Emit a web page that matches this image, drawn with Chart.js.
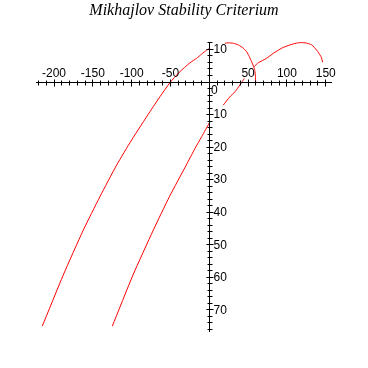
<!DOCTYPE html>
<html>
<head>
<meta charset="utf-8">
<script src="https://cdn.jsdelivr.net/npm/chart.js@4/dist/chart.umd.min.js"></script>
<style>
  html, body { margin: 0; padding: 0; background: #fff; }
  canvas { display: block; }
</style>
</head>
<body>
<canvas id="mikhajlov" width="368" height="368"></canvas>
<script>
// Curve A: starts on the real axis near x=60, arcs over the top, runs down-left
// (null = piece hidden behind a tick label in the original)
const curveAX = [59.8, 59.4, 58.6, 56.9, 54.6, 51.5, 48.2, 43.8, 37.4, 30.9, 24.5, 20.2, 10.5,
  0.9, -3.3, -9.8, -16.2, -24.9, -39.0, -50.6, -63.5, -76.4, -100.0, -119.3, -140.8, -162.3, -188.1, -215.1];
const curveAY = [-0.1, 1.8, 3.6, 4.9, 6.2, 7.8, 9.3, 10.4, 11.4, 11.9, 12.05, 11.9, null,
  10.4, 9.8, 8.6, 7.3, 5.9, 2.9, -0.2, -4.5, -9.1, -17.8, -25.5, -35.2, -45.5, -59.3, -75.0];

// Curve B: right arc, then down-left below the origin
const curveBX = [146.1, 143.9, 138.3, 131.9, 123.3, 114.6, 104.0, 93.3, 82.4, 73.9, 63.1, 58.0, 51.0,
  45.1, 39.5, 33.1, 26.3, 18.0, 10.0,
  0.9, -9.8, -18.4, -29.6, -51.3, -72.1, -98.3, -124.9];
const curveBY = [6.1, 7.8, 9.8, 11.4, 12.05, 12.05, 11.4, 10.4, 8.8, 7.3, 5.9, 4.8, null,
  1.1, -0.9, -3.0, -4.6, -7.1, null,
  -12.2, -16.8, -20.4, -25.5, -35.2, -45.5, -59.3, -75.0];

const xTickLabels = [-200, -150, -100, -50, 50, 100, 150];
const yTickLabels = [10, -10, -20, -30, -40, -50, -60, -70];

const toPoints = (xs, ys) => xs.map((v, i) => ({ x: v, y: ys[i] }));

const mapleAxes = {
  id: "mapleAxes",
  afterDraw(chart) {
    const { ctx } = chart;
    const sx = chart.scales.x, sy = chart.scales.y;
    const x0 = Math.floor(sx.getPixelForValue(0)) + 0.5;
    const y0 = Math.floor(sy.getPixelForValue(0)) + 0.5;
    ctx.save();
    ctx.strokeStyle = "#000";
    ctx.lineWidth = 1;
    ctx.beginPath();
    // axes through the origin
    ctx.moveTo(Math.floor(sx.getPixelForValue(-223)), y0);
    ctx.lineTo(Math.ceil(sx.getPixelForValue(157.5)), y0);
    ctx.moveTo(x0, Math.floor(sy.getPixelForValue(11.9)));
    ctx.lineTo(x0, Math.ceil(sy.getPixelForValue(-76.7)));
    // x ticks, every 10, longer every 50
    for (let v = -220; v <= 150; v += 10) {
      const p = Math.floor(sx.getPixelForValue(v)) + 0.5;
      const len = v % 50 === 0 ? 3 : 2;
      ctx.moveTo(p, y0 - len);
      ctx.lineTo(p, y0 + len + 1);
    }
    // y ticks, every 2, longer every 10
    for (let v = 12; v >= -76; v -= 2) {
      const p = Math.floor(sy.getPixelForValue(v)) + 0.5;
      const len = v % 10 === 0 ? 3 : 2;
      ctx.moveTo(x0 - len, p);
      ctx.lineTo(x0 + len + 1, p);
    }
    ctx.stroke();

    ctx.fillStyle = "#000";
    ctx.font = "12px 'Liberation Sans', Arial, sans-serif";
    ctx.textAlign = "center";
    ctx.textBaseline = "alphabetic";
    xTickLabels.forEach((v) => {
      ctx.fillText(String(v), sx.getPixelForValue(v), y0 - 6);
    });
    ctx.textAlign = "left";
    ctx.textBaseline = "middle";
    yTickLabels.forEach((v) => {
      ctx.fillText(String(Math.abs(v)), x0 + 4, sy.getPixelForValue(v) + 0.5);
    });
    ctx.textBaseline = "alphabetic";
    ctx.fillText("0", x0 + 1.5, y0 + 11);

    // title
    ctx.font = "italic 16px 'Liberation Serif', 'Times New Roman', serif";
    ctx.textAlign = "center";
    ctx.fillText("Mikhajlov Stability Criterium", 184, 15);
    ctx.restore();
  },
};

const ctx = document.getElementById("mikhajlov");
new Chart(ctx, {
  type: "scatter",
  data: {
    datasets: [
      { data: toPoints(curveAX, curveAY) },
      { data: toPoints(curveBX, curveBY) },
    ].map((d) => ({
      ...d,
      showLine: true,
      spanGaps: false,
      borderColor: "#ff0000",
      borderWidth: 1,
      pointRadius: 0,
      tension: 0.2,
      clip: false,
    })),
  },
  options: {
    responsive: false,
    animation: false,
    devicePixelRatio: 1,
    layout: { padding: { left: 36, right: 36.3, top: 42.3, bottom: 36.3 } },
    plugins: { legend: { display: false }, title: { display: false }, tooltip: { enabled: false } },
    scales: {
      x: { type: "linear", min: -223.2, max: 157.7, display: false },
      y: { type: "linear", min: -76.7, max: 12.2, display: false },
    },
  },
  plugins: [mapleAxes],
});
</script>
</body>
</html>
